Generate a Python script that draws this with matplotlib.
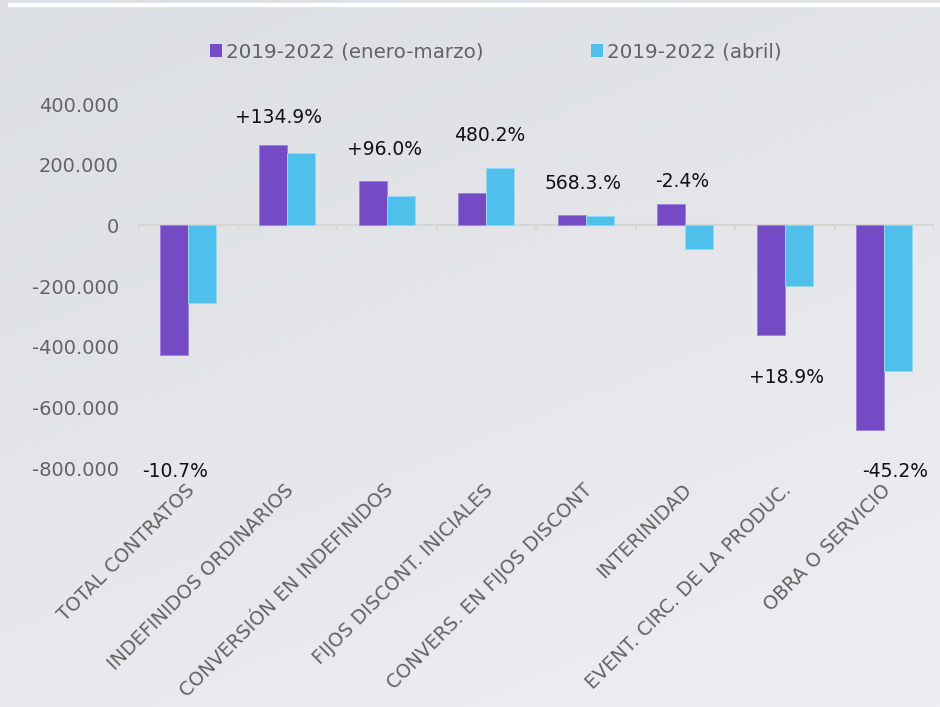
import numpy as np
import matplotlib
matplotlib.use('Agg')
import matplotlib.pyplot as plt
import matplotlib.transforms as mtransforms
from matplotlib.patches import Patch
from matplotlib.ticker import FuncFormatter

# data
categories = ['TOTAL CONTRATOS', 'INDEFINIDOS ORDINARIOS', 'CONVERSIÓN EN INDEFINIDOS',
              'FIJOS DISCONT. INICIALES', 'CONVERS. EN FIJOS DISCONT', 'INTERINIDAD',
              'EVENT. CIRC. DE LA PRODUC.', 'OBRA O SERVICIO']
enero_marzo = [-427000, 266000, 147000, 105000, 33000, 70000, -363000, -675000]
abril = [-255000, 237000, 97000, 190000, 30000, -77000, -199000, -479000]
pct_labels = ['-10.7%', '+134.9%', '+96.0%', '480.2%', '568.3.%', '-2.4%', '+18.9%', '-45.2%']
series_names = ['2019-2022 (enero-marzo)', '2019-2022 (abril)']

# where each percentage label sits (x offset from category centre, y in data units)
label_pos = [(-0.13, -813000), (-0.09, 355000), (-0.02, 249000), (0.03, 295000),
             (-0.03, 137000), (-0.03, 144000), (0.02, -500000), (0.11, -812000)]

purple = '#744bc4'
cyan = '#4fc0eb'
grey_txt = '#636363'

fig = plt.figure(figsize=(9.4, 7.07), dpi=100)

# soft grey gradient background
bg = fig.add_axes([0, 0, 1, 1], zorder=-10)
yy, xx = np.mgrid[0:1:200j, 0:1:200j]
grad = 0.35 * xx + 0.65 * yy
c0 = np.array([0xdb, 0xde, 0xe2]) / 255
c1 = np.array([0xee, 0xef, 0xf2]) / 255
img = c0[None, None, :] * (1 - grad[..., None]) + c1[None, None, :] * grad[..., None]
bg.imshow(img[::-1], extent=[0, 1, 0, 1], aspect='auto', origin='lower')
bg.plot([8 / 940, 1], [1 - 5.3 / 707, 1 - 5.3 / 707], color='white', lw=3.2, solid_capstyle='butt')
bg.set_xlim(0, 1)
bg.set_ylim(0, 1)
bg.axis('off')

ax = fig.add_axes([138 / 940, 1 - 468 / 707, 796 / 940, 364 / 707])
ax.patch.set_alpha(0)

x = np.arange(len(categories))
w = 0.28
ax.bar(x - w / 2, enero_marzo, w, color=purple, edgecolor='#9c86db', linewidth=0.7, zorder=3)
ax.bar(x + w / 2, abril, w, color=cyan, edgecolor='#93d8f2', linewidth=0.7, zorder=3)

ax.set_xlim(-0.5, len(categories) - 0.5)
ax.set_ylim(-800000, 400000)
ax.set_yticks(np.arange(-800000, 400001, 200000))
ax.yaxis.set_major_formatter(FuncFormatter(lambda v, p: f'{int(v):,}'.replace(',', '.')))

# zero line with small boundary ticks
ax.axhline(0, color='#d6d6d6', lw=1.6, zorder=2)
bounds = np.arange(len(categories) + 1) - 0.5
ax.vlines(bounds, -17000, 0, color='#d6d6d6', lw=1.3, zorder=2)

for s in ax.spines.values():
    s.set_visible(False)

ax.tick_params(axis='y', length=0, pad=14, labelsize=14, labelcolor=grey_txt)
ax.tick_params(axis='x', length=0, pad=9, labelsize=13.8, labelcolor=grey_txt)
ax.set_xticks(x)
ax.set_xticklabels(categories, rotation=45, ha='right', rotation_mode='anchor')
shift = mtransforms.ScaledTranslation(-3 / 100, 0, fig.dpi_scale_trans)
for t in ax.get_xticklabels():
    t.set_transform(t.get_transform() + shift)

for i, (lab, (dx, ly)) in enumerate(zip(pct_labels, label_pos)):
    ax.text(i + dx, ly, lab, ha='center', va='center', fontsize=13.5, color='#111111', clip_on=False)

handles = [Patch(facecolor=purple), Patch(facecolor=cyan)]
fig.legend(handles, series_names, loc='center', bbox_to_anchor=(496 / 940, 1 - 52 / 707), ncol=2,
           frameon=False, handlelength=0.62, handleheight=0.58, handletextpad=0.2, columnspacing=5.4,
           fontsize=14.3, labelcolor=grey_txt)

fig.savefig('out.png', dpi=100)
